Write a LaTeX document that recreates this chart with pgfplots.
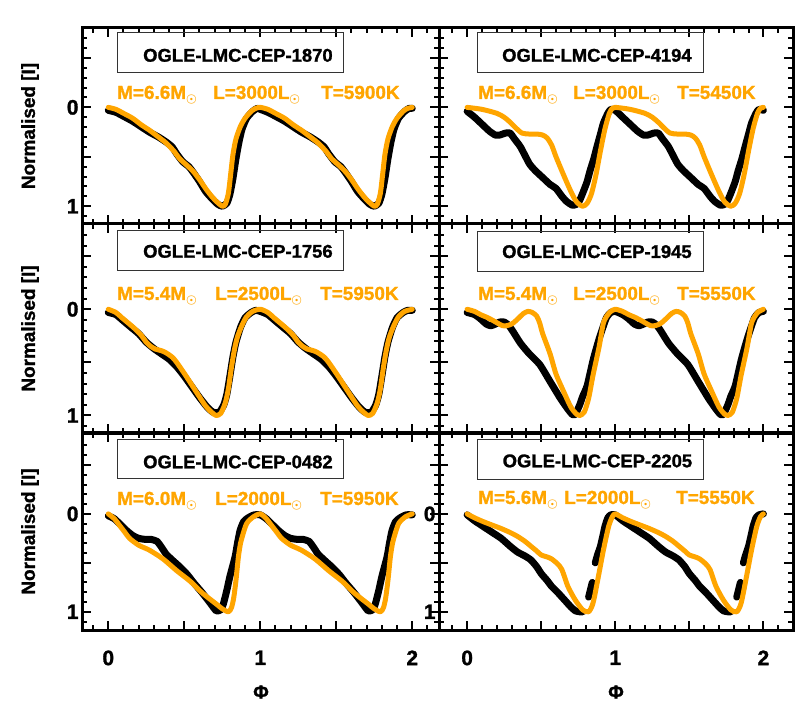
\documentclass[border=0pt]{standalone}
\usepackage{pgfplots}
\pgfplotsset{compat=1.18}
\usepackage{pgfplotstable}
\usepackage{fontspec}
\setmainfont{Liberation Sans}[BoldFeatures={FakeBold=1.3}]
\definecolor{idlorange}{RGB}{255,165,0}
\newcommand\sun{\raisebox{-4bp}{\fontsize{12}{12}\selectfont\boldmath$\odot$}}

% ---------- panel 1 : OGLE-LMC-CEP-1870 ----------
\pgfplotstableread{
p y
0.00 0.03
0.05 0.05
0.10 0.09
0.16 0.14
0.22 0.20
0.27 0.25
0.33 0.30
0.38 0.35
0.42 0.40
0.45 0.47
0.49 0.55
0.53 0.60
0.56 0.66
0.60 0.75
0.64 0.85
0.68 0.92
0.72 0.98
0.75 1.00
0.78 0.97
0.80 0.88
0.82 0.72
0.84 0.52
0.86 0.35
0.88 0.22
0.91 0.11
0.95 0.04
0.98 0.01
1.00 0.02
1.05 0.05
1.10 0.09
1.16 0.14
1.22 0.20
1.27 0.25
1.33 0.30
1.38 0.35
1.42 0.40
1.45 0.47
1.49 0.55
1.53 0.60
1.56 0.66
1.60 0.75
1.64 0.85
1.68 0.92
1.72 0.98
1.75 1.00
1.78 0.97
1.80 0.88
1.82 0.72
1.84 0.52
1.86 0.35
1.88 0.22
1.91 0.11
1.95 0.04
1.98 0.01
2.00 0.01
}\obsA
\pgfplotstableread{
p y
0.00 0.00
0.05 0.02
0.10 0.06
0.16 0.11
0.22 0.18
0.27 0.23
0.33 0.30
0.38 0.36
0.43 0.44
0.47 0.52
0.52 0.59
0.56 0.65
0.60 0.73
0.64 0.82
0.68 0.90
0.71 0.95
0.75 1.00
0.77 0.98
0.79 0.87
0.805 0.68
0.82 0.48
0.84 0.32
0.87 0.19
0.90 0.11
0.94 0.04
0.97 0.01
1.00 0.00
1.05 0.02
1.10 0.06
1.16 0.11
1.22 0.18
1.27 0.23
1.33 0.30
1.38 0.36
1.43 0.44
1.47 0.52
1.52 0.59
1.56 0.65
1.60 0.73
1.64 0.82
1.68 0.90
1.71 0.95
1.75 1.00
1.77 0.98
1.79 0.87
1.805 0.68
1.82 0.48
1.84 0.32
1.87 0.19
1.90 0.11
1.94 0.04
1.97 0.01
2.00 0.00
}\modA

% ---------- panel 2 : OGLE-LMC-CEP-4194 ----------
\pgfplotstableread{
p y
0.00 0.04
0.05 0.10
0.10 0.17
0.15 0.24
0.19 0.28
0.22 0.28
0.26 0.26
0.29 0.26
0.32 0.32
0.36 0.40
0.42 0.57
0.46 0.64
0.51 0.71
0.56 0.78
0.60 0.82
0.64 0.90
0.67 0.95
0.71 0.99
0.74 0.98
0.76 0.94
0.785 0.85
0.81 0.75
0.83 0.64
0.855 0.52
0.876 0.40
0.90 0.27
0.92 0.16
0.95 0.06
0.97 0.02
1.00 0.03
1.05 0.10
1.10 0.17
1.15 0.24
1.19 0.28
1.22 0.28
1.26 0.26
1.29 0.26
1.32 0.32
1.36 0.40
1.42 0.57
1.46 0.64
1.51 0.71
1.56 0.78
1.60 0.82
1.64 0.90
1.67 0.95
1.71 0.99
1.74 0.98
1.76 0.94
1.785 0.85
1.81 0.75
1.83 0.64
1.855 0.52
1.876 0.40
1.90 0.27
1.92 0.16
1.95 0.06
1.97 0.02
2.00 0.03
}\obsB
\pgfplotstableread{
p y
0.00 0.00
0.10 0.02
0.20 0.06
0.25 0.10
0.29 0.15
0.33 0.21
0.37 0.26
0.42 0.27
0.47 0.27
0.51 0.28
0.54 0.31
0.57 0.38
0.60 0.50
0.65 0.68
0.70 0.85
0.74 0.96
0.78 1.00
0.81 0.97
0.84 0.87
0.87 0.68
0.90 0.44
0.93 0.22
0.96 0.06
0.98 0.01
1.00 0.00
1.10 0.02
1.20 0.06
1.25 0.10
1.29 0.15
1.33 0.21
1.37 0.26
1.42 0.27
1.47 0.27
1.51 0.28
1.54 0.31
1.57 0.38
1.60 0.50
1.65 0.68
1.70 0.85
1.74 0.96
1.78 1.00
1.81 0.97
1.84 0.87
1.87 0.68
1.90 0.44
1.93 0.22
1.96 0.06
1.98 0.01
2.00 0.00
}\modB

% ---------- panel 3 : OGLE-LMC-CEP-1756 ----------
\pgfplotstableread{
p y
0.00 0.03
0.05 0.05
0.10 0.11
0.15 0.17
0.20 0.23
0.25 0.31
0.30 0.37
0.35 0.42
0.40 0.47
0.45 0.54
0.50 0.63
0.55 0.73
0.60 0.83
0.65 0.92
0.69 0.97
0.73 0.97
0.76 0.90
0.78 0.80
0.80 0.63
0.82 0.45
0.84 0.31
0.87 0.17
0.90 0.08
0.94 0.03
0.97 0.01
1.00 0.02
1.05 0.05
1.10 0.11
1.15 0.17
1.20 0.23
1.25 0.31
1.30 0.37
1.35 0.42
1.40 0.47
1.45 0.54
1.50 0.63
1.55 0.73
1.60 0.83
1.65 0.92
1.69 0.97
1.73 0.97
1.76 0.90
1.78 0.80
1.80 0.63
1.82 0.45
1.84 0.31
1.87 0.17
1.90 0.08
1.94 0.03
1.97 0.01
2.00 0.01
}\obsC
\pgfplotstableread{
p y
0.00 0.00
0.05 0.03
0.09 0.08
0.14 0.14
0.18 0.19
0.22 0.25
0.25 0.31
0.28 0.35
0.31 0.375
0.35 0.39
0.38 0.41
0.42 0.45
0.45 0.50
0.51 0.625
0.58 0.78
0.64 0.91
0.68 0.97
0.71 1.00
0.74 0.98
0.77 0.88
0.79 0.75
0.81 0.55
0.83 0.38
0.85 0.26
0.88 0.15
0.91 0.07
0.95 0.02
1.00 0.00
1.05 0.03
1.09 0.08
1.14 0.14
1.18 0.19
1.22 0.25
1.25 0.31
1.28 0.35
1.31 0.375
1.35 0.39
1.38 0.41
1.42 0.45
1.45 0.50
1.51 0.625
1.58 0.78
1.64 0.91
1.68 0.97
1.71 1.00
1.74 0.98
1.77 0.88
1.79 0.75
1.81 0.55
1.83 0.38
1.85 0.26
1.88 0.15
1.91 0.07
1.95 0.02
2.00 0.00
}\modC

% ---------- panel 4 : OGLE-LMC-CEP-1945 ----------
\pgfplotstableread{
p y
0.00 0.03
0.05 0.05
0.09 0.09
0.13 0.14
0.16 0.155
0.19 0.14
0.22 0.12
0.25 0.12
0.28 0.15
0.31 0.21
0.36 0.32
0.42 0.42
0.49 0.52
0.56 0.68
0.63 0.84
0.68 0.94
0.71 0.99
0.73 0.99
0.76 0.90
0.78 0.82
0.81 0.72
0.85 0.48
0.88 0.33
0.90 0.24
0.94 0.08
0.97 0.03
1.00 0.02
1.05 0.05
1.09 0.09
1.13 0.14
1.16 0.155
1.19 0.14
1.22 0.12
1.25 0.12
1.28 0.15
1.31 0.21
1.36 0.32
1.42 0.42
1.49 0.52
1.56 0.68
1.63 0.84
1.68 0.94
1.71 0.99
1.73 0.99
1.76 0.90
1.78 0.82
1.81 0.72
1.85 0.48
1.88 0.33
1.90 0.24
1.94 0.08
1.97 0.03
2.00 0.02
}\obsD
\pgfplotstableread{
p y
0.00 0.00
0.05 0.02
0.09 0.05
0.14 0.08
0.18 0.11
0.24 0.155
0.28 0.15
0.31 0.13
0.35 0.08
0.38 0.04
0.41 0.02
0.44 0.03
0.47 0.065
0.49 0.13
0.51 0.23
0.56 0.42
0.60 0.61
0.65 0.77
0.70 0.92
0.74 0.99
0.76 1.00
0.79 0.97
0.82 0.84
0.85 0.62
0.89 0.36
0.92 0.13
0.95 0.05
0.97 0.02
1.00 0.00
1.05 0.02
1.09 0.05
1.14 0.08
1.18 0.11
1.24 0.155
1.28 0.15
1.31 0.13
1.35 0.08
1.38 0.04
1.41 0.02
1.44 0.03
1.47 0.065
1.49 0.13
1.51 0.23
1.56 0.42
1.60 0.61
1.65 0.77
1.70 0.92
1.74 0.99
1.76 1.00
1.79 0.97
1.82 0.84
1.85 0.62
1.89 0.36
1.92 0.13
1.95 0.05
1.97 0.02
2.00 0.00
}\modD

% ---------- panel 5 : OGLE-LMC-CEP-0482 ----------
\pgfplotstableread{
p y
0.00 0.02
0.04 0.05
0.08 0.11
0.12 0.17
0.16 0.22
0.20 0.25
0.24 0.26
0.28 0.26
0.32 0.28
0.35 0.34
0.38 0.41
0.42 0.47
0.47 0.54
0.52 0.62
0.56 0.70
0.62 0.81
0.67 0.91
0.71 0.99
0.74 0.98
0.757 0.92
0.78 0.78
0.80 0.64
0.834 0.44
0.85 0.30
0.867 0.17
0.89 0.08
0.92 0.04
0.96 0.01
1.00 0.01
1.04 0.05
1.08 0.11
1.12 0.17
1.16 0.22
1.20 0.25
1.24 0.26
1.28 0.26
1.32 0.28
1.35 0.34
1.38 0.41
1.42 0.47
1.47 0.54
1.52 0.62
1.56 0.70
1.62 0.81
1.67 0.91
1.71 0.99
1.74 0.98
1.757 0.92
1.78 0.78
1.80 0.64
1.834 0.44
1.85 0.30
1.867 0.17
1.89 0.08
1.92 0.04
1.96 0.01
2.00 0.01
}\obsE
\pgfplotstableread{
p y
0.00 0.00
0.04 0.05
0.08 0.13
0.11 0.19
0.14 0.25
0.20 0.32
0.27 0.37
0.36 0.46
0.45 0.58
0.54 0.69
0.62 0.81
0.71 0.92
0.75 0.97
0.79 1.00
0.81 0.96
0.825 0.86
0.84 0.68
0.856 0.44
0.87 0.30
0.88 0.24
0.91 0.10
0.955 0.03
1.00 0.00
1.04 0.05
1.08 0.13
1.11 0.19
1.14 0.25
1.20 0.32
1.27 0.37
1.36 0.46
1.45 0.58
1.54 0.69
1.62 0.81
1.71 0.92
1.75 0.97
1.79 1.00
1.81 0.96
1.825 0.86
1.84 0.68
1.856 0.44
1.87 0.30
1.88 0.24
1.91 0.10
1.955 0.03
2.00 0.00
}\modE

% ---------- panel 6 : OGLE-LMC-CEP-2205 ----------
\pgfplotstableread{
p y
0.00 0.01
0.05 0.07
0.11 0.13
0.17 0.19
0.23 0.25
0.29 0.33
0.34 0.39
0.39 0.43
0.43 0.47
0.47 0.54
0.50 0.61
0.54 0.68
0.57 0.74
0.61 0.80
0.64 0.85
0.67 0.90
0.70 0.95
0.73 0.99
0.76 1.00
0.78 1.00
0.80 nan
0.82 0.85
0.835 0.76
0.845 0.70
0.855 nan
0.865 0.50
0.88 0.42
0.90 0.33
0.92 0.20
0.93 0.13
0.95 0.04
0.97 0.01
1.00 0.01
1.05 0.07
1.11 0.13
1.17 0.19
1.23 0.25
1.29 0.33
1.34 0.39
1.39 0.43
1.43 0.47
1.47 0.54
1.50 0.61
1.54 0.68
1.57 0.74
1.61 0.80
1.64 0.85
1.67 0.90
1.70 0.95
1.73 0.99
1.76 1.00
1.78 1.00
1.80 nan
1.82 0.85
1.835 0.76
1.845 0.70
1.855 nan
1.865 0.50
1.88 0.42
1.90 0.33
1.92 0.20
1.93 0.13
1.95 0.04
1.97 0.01
2.00 0.00
}\obsF
\pgfplotstableread{
p y
0.00 0.00
0.05 0.04
0.11 0.08
0.17 0.115
0.23 0.15
0.29 0.19
0.34 0.23
0.39 0.28
0.43 0.33
0.47 0.38
0.50 0.42
0.54 0.44
0.57 0.46
0.61 0.51
0.64 0.57
0.68 0.74
0.73 0.88
0.78 0.98
0.82 1.00
0.85 0.91
0.886 0.64
0.92 0.37
0.955 0.13
0.98 0.03
1.00 0.00
1.05 0.04
1.11 0.08
1.17 0.115
1.23 0.15
1.29 0.19
1.34 0.23
1.39 0.28
1.43 0.33
1.47 0.38
1.50 0.42
1.54 0.44
1.57 0.46
1.61 0.51
1.64 0.57
1.68 0.74
1.73 0.88
1.78 0.98
1.82 1.00
1.85 0.91
1.886 0.64
1.92 0.37
1.955 0.13
1.98 0.03
2.00 0.00
}\modF

\pgfplotsset{
  panel/.style={
    scale only axis, y dir=reverse, clip=true, unbounded coords=jump,
    xtick={0,0.5,1,1.5,2}, ytick={-0.5,0,0.5,1},
    minor xtick={-0.1,0.1,0.2,0.3,0.4,0.6,0.7,0.8,0.9,1.1,1.2,1.3,1.4,1.6,1.7,1.8,1.9,2.1},
    minor ytick={-0.7,-0.6,-0.4,-0.3,-0.2,-0.1,0.1,0.2,0.3,0.4,0.6,0.7,0.8,0.9,1.1},
    xticklabels={}, yticklabels={},
    tick align=inside, tick pos=both,
    major tick length=9bp, minor tick length=5bp,
    tick style={black, line width=2bp},
    axis line style={line width=3bp},
    tick label style={font=\fontsize{21}{21}\selectfont\bfseries},
  },
  leftcol/.style={at={(82bp,#1)}, anchor=south west, xmin=-0.173, xmax=2.176, width=357bp},
  rightcol/.style={at={(439bp,#1)}, anchor=south west, xmin=-0.19, xmax=2.2, width=354bp},
  toprow/.style={height=196bp, ymin=-0.803, ymax=1.18},
  midrow/.style={height=209bp, ymin=-0.803, ymax=1.165},
  botrow/.style={height=197bp, ymin=-0.826, ymax=1.186},
  ylab/.style={yticklabels={{},\textbf{0},{},\textbf{1}}},
  xlab/.style={xticklabels={\textbf{0},{},\textbf{1},{},\textbf{2}}, xticklabel style={yshift=-17bp}},
  obs/.style={black, line width=7bp, line join=round, line cap=round, smooth, tension=0.35},
  mod/.style={idlorange, line width=5bp, line join=round, line cap=round, smooth, tension=0.45},
}

\newcommand\titlefont{\fontsize{18.5}{18.5}\selectfont\bfseries}
\newcommand\parfont{\fontsize{19}{19}\selectfont\bfseries\color{idlorange}}
\newcommand\labfont{\fontsize{19}{19}\selectfont\bfseries}

\begin{document}
\begin{tikzpicture}
\path[use as bounding box] (0,0) rectangle (802bp,702bp);

% top row
\begin{axis}[panel, leftcol=478bp, toprow, ylab]
\addplot[obs] table[x=p,y=y] {\obsA};
\addplot[mod] table[x=p,y=y] {\modA};
\end{axis}
\begin{axis}[panel, rightcol=478bp, toprow]
\addplot[obs] table[x=p,y=y] {\obsB};
\addplot[mod] table[x=p,y=y] {\modB};
\end{axis}
% middle row
\begin{axis}[panel, leftcol=269bp, midrow, ylab]
\addplot[obs] table[x=p,y=y] {\obsC};
\addplot[mod] table[x=p,y=y] {\modC};
\end{axis}
\begin{axis}[panel, rightcol=269bp, midrow]
\addplot[obs] table[x=p,y=y] {\obsD};
\addplot[mod] table[x=p,y=y] {\modD};
\end{axis}
% bottom row
\begin{axis}[panel, leftcol=72bp, botrow, ylab, xlab]
\addplot[obs] table[x=p,y=y] {\obsE};
\addplot[mod] table[x=p,y=y] {\modE};
\end{axis}
\begin{axis}[panel, rightcol=72bp, botrow, ylab, xlab]
\addplot[obs] table[x=p,y=y] {\obsF};
\addplot[mod] table[x=p,y=y] {\modF};
\end{axis}

% title boxes
\draw[line width=1bp, black!80] (117bp,629bp) rectangle (343bp,669bp);
\draw[line width=1bp, black!80] (477bp,629bp) rectangle (703bp,669bp);
\draw[line width=1bp, black!80] (117bp,431bp) rectangle (343bp,471bp);
\draw[line width=1bp, black!80] (477bp,430bp) rectangle (703bp,470bp);
\draw[line width=1bp, black!80] (117bp,223bp) rectangle (343bp,262bp);
\draw[line width=1bp, black!80] (477bp,222bp) rectangle (703bp,262bp);

\node[anchor=base west, inner sep=0pt, font=\titlefont] at (143bp,640.3bp) {OGLE-LMC-CEP-1870};
\node[anchor=base west, inner sep=0pt, font=\titlefont] at (502bp,640.3bp) {OGLE-LMC-CEP-4194};
\node[anchor=base west, inner sep=0pt, font=\titlefont] at (143bp,444.3bp) {OGLE-LMC-CEP-1756};
\node[anchor=base west, inner sep=0pt, font=\titlefont] at (502bp,444bp) {OGLE-LMC-CEP-1945};
\node[anchor=base west, inner sep=0pt, font=\titlefont] at (143bp,233.7bp) {OGLE-LMC-CEP-0482};
\node[anchor=base west, inner sep=0pt, font=\titlefont] at (502.5bp,234.7bp) {OGLE-LMC-CEP-2205};

% parameters
\node[anchor=base west, inner sep=0pt, font=\parfont] at (117bp,603bp) {M=6.6M\sun};
\node[anchor=base west, inner sep=0pt, font=\parfont] at (213bp,603bp) {L=3000L\sun};
\node[anchor=base west, inner sep=0pt, font=\parfont] at (321bp,603bp) {T=5900K};
\node[anchor=base west, inner sep=0pt, font=\parfont] at (478bp,603bp) {M=6.6M\sun};
\node[anchor=base west, inner sep=0pt, font=\parfont] at (573bp,603bp) {L=3000L\sun};
\node[anchor=base west, inner sep=0pt, font=\parfont] at (677bp,603bp) {T=5450K};

\node[anchor=base west, inner sep=0pt, font=\parfont] at (117bp,402bp) {M=5.4M\sun};
\node[anchor=base west, inner sep=0pt, font=\parfont] at (215bp,402bp) {L=2500L\sun};
\node[anchor=base west, inner sep=0pt, font=\parfont] at (320bp,402bp) {T=5950K};
\node[anchor=base west, inner sep=0pt, font=\parfont] at (478bp,402bp) {M=5.4M\sun};
\node[anchor=base west, inner sep=0pt, font=\parfont] at (573bp,402bp) {L=2500L\sun};
\node[anchor=base west, inner sep=0pt, font=\parfont] at (677bp,402bp) {T=5550K};

\node[anchor=base west, inner sep=0pt, font=\parfont] at (117bp,197bp) {M=6.0M\sun};
\node[anchor=base west, inner sep=0pt, font=\parfont] at (215bp,197bp) {L=2000L\sun};
\node[anchor=base west, inner sep=0pt, font=\parfont] at (320bp,197bp) {T=5950K};
\node[anchor=base west, inner sep=0pt, font=\parfont] at (478bp,198bp) {M=5.6M\sun};
\node[anchor=base west, inner sep=0pt, font=\parfont] at (564bp,198bp) {L=2000L\sun};
\node[anchor=base west, inner sep=0pt, font=\parfont] at (676bp,198bp) {T=5550K};

% axis labels
\node[rotate=90, font=\labfont] at (30bp,576bp) {Normalised [I]};
\node[rotate=90, font=\labfont] at (30bp,373.5bp) {Normalised [I]};
\node[rotate=90, font=\labfont] at (30bp,170.5bp) {Normalised [I]};
\node[font=\labfont] at (261bp,10bp) {Φ};
\node[font=\labfont] at (616bp,10bp) {Φ};
\end{tikzpicture}
\end{document}
